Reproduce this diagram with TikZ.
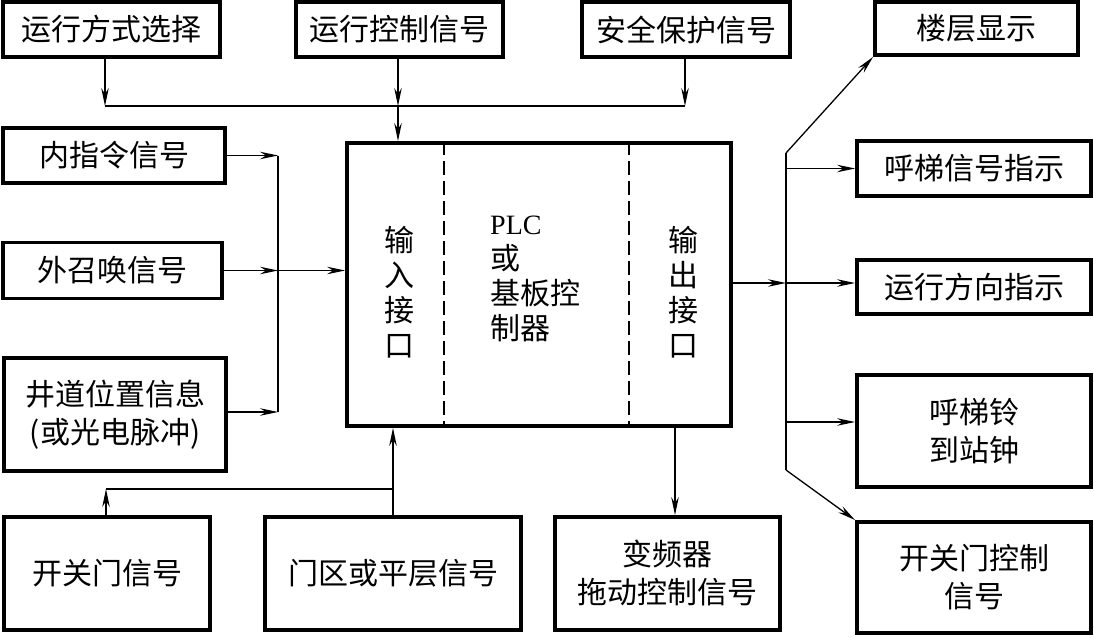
\documentclass[tikz,border=0pt]{standalone}
\usepackage{fontspec}
\setmainfont{Liberation Serif}
\newfontfamily\cjk{Noto Sans CJK SC}
\usetikzlibrary{arrows.meta}
\begin{document}
\begin{tikzpicture}[x=1pt,y=-1pt,
  box/.style={draw, line width=3.8pt, inner sep=0pt, align=center, font=\cjk\fontsize{30}{38}\selectfont},
  txt/.style={inner sep=0pt, align=center, font=\cjk\fontsize{30}{35}\selectfont},
  conn/.style={line width=1.3pt},
  arr/.style={conn, -{Stealth[length=18pt,width=7.5pt,inset=6pt]}},
  dashline/.style={line width=1.2pt, dash pattern=on 14pt off 6pt}]
\fill[white] (0,0) rectangle (1094,637);
\useasboundingbox (0,0) rectangle (1094,637);
% top row
\node[box, minimum width=217pt, minimum height=55pt] (m1) at (111.5,29.5) {运行方式选择};
\node[box, minimum width=207pt, minimum height=55pt] (m2) at (399.5,29.5) {运行控制信号};
\node[box, minimum width=208pt, minimum height=55pt] (m3) at (686,29.5) {安全保护信号};
\node[box, minimum width=203pt, minimum height=53pt] (r1) at (976.5,28.5) {楼层显示};
% left column
\node[box, minimum width=222pt, minimum height=55pt] (l1) at (114,155.5) {内指令信号};
\node[box, minimum width=219pt, minimum height=56pt] (l2) at (112.5,270.5) {外召唤信号};
\node[box, minimum width=222pt, minimum height=113pt] (l3) at (115,414.5) {井道位置信息\\(或光电脉冲)};
% main box
\node[draw, line width=3.8pt, inner sep=0pt, minimum width=384pt, minimum height=283pt] (main) at (539,284.5) {};
\coordinate (d1) at (444,0);
\coordinate (d2) at (629,0);
\draw[dashline] (main.north -| d1) -- (main.south -| d1);
\draw[dashline] (main.north -| d2) -- (main.south -| d2);
\node[txt] (inif) at (399,292) {输\\入\\接\\口};
\node[txt] (outif) at (683,292) {输\\出\\接\\口};
\node[txt, align=left, anchor=west] (plc) at (490,279) {{\rmfamily\fontsize{28}{35}\selectfont PLC}\\或\\基板控\\制器};
% right column
\node[box, minimum width=234pt, minimum height=55pt] (r2) at (974,168.5) {呼梯信号指示};
\node[box, minimum width=234pt, minimum height=54pt] (r3) at (974,287) {运行方向指示};
\node[box, minimum width=234pt, minimum height=112pt] (r4) at (974,431) {呼梯铃\\到站钟};
\node[box, minimum width=234pt, minimum height=111pt] (r5) at (974,577.5) {开关门控制\\信号};
% bottom row
\node[box, minimum width=206pt, minimum height=113pt] (b1) at (107,573.5) {开关门信号};
\node[box, minimum width=256pt, minimum height=113pt] (b2) at (393,573.5) {门区或平层信号};
\node[box, minimum width=225pt, minimum height=113pt] (b3) at (667.5,573.5) {变频器\\拖动控制信号};
% top connectors
\coordinate (j1) at (105,106);
\coordinate (j2) at (398,106);
\coordinate (j3) at (685,106);
\draw[arr] (m1.south -| j1) -- (j1);
\draw[arr] (m3.south -| j3) -- (j3);
\draw[conn] (j1) -- (j3);
\draw[arr] (m2.south -| j2) -- (j2);
\draw[arr] (j2) -- (main.north -| j2);
% left connectors
\coordinate (ba) at (278,155.5);
\coordinate (bc) at (278,412);
\coordinate (bm) at (278,270.5);
\draw[conn] (ba) -- (bc);
\draw[arr] (l1.east) -- (ba);
\draw[arr] (l3.east |- bc) -- (bc);
\draw[arr] (l2.east) -- (bm);
\draw[arr] (bm) -- (main.west |- bm);
% right connectors
\coordinate (rt) at (786,153);
\coordinate (rb) at (786,470);
\coordinate (rm) at (786,283);
\coordinate (r4j) at (786,422);
\draw[conn] (rt) -- (rb);
\draw[arr] (main.east |- rm) -- (rm);
\draw[arr] (rm) -- (rm -| r3.west);
\draw[arr] (r2.west -| rm) -- (r2.west);
\draw[arr] (r4j) -- (r4j -| r4.west);
\draw[arr] (rt) -- (r1.south west);
\draw[arr] (rb) -- (r5.north west);
% bottom connectors
\coordinate (bj) at (393,489);
\coordinate (bk) at (106,489);
\coordinate (vx) at (675,0);
\draw[arr] (b2.north) -- (b2.north |- main.south);
\draw[conn] (bj) -- (bk);
\draw[arr] (b1.north -| bk) -- (bk);
\draw[arr] (main.south -| vx) -- (b3.north -| vx);
\end{tikzpicture}
\end{document}
